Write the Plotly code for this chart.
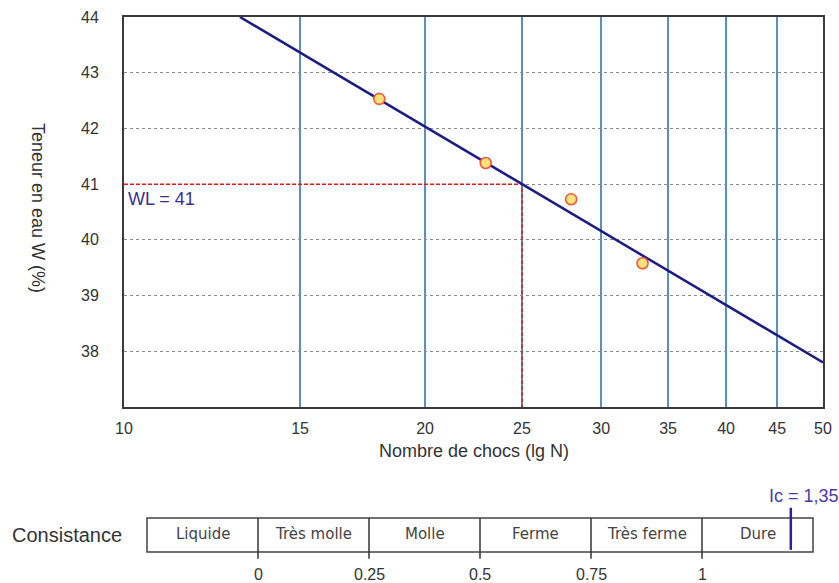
import numpy as np
import plotly.graph_objects as go

# ---- data ----
chocs_N = [18, 23, 28, 33]
teneur_W = [42.53, 41.38, 40.73, 39.58]
fit_N = [13.06, 50]
fit_W = [44.0, 37.8]
WL_N = 25
WL = 41
x_ticks = [10, 15, 20, 25, 30, 35, 40, 45, 50]
y_ticks = [38, 39, 40, 41, 42, 43, 44]

cons_labels = ["Liquide", "Très molle", "Molle", "Ferme", "Très ferme", "Dure"]
cons_bounds = [-0.25, 0, 0.25, 0.5, 0.75, 1, 1.25]
cons_ticks = [0, 0.25, 0.5, 0.75, 1]
cons_ticktext = ["0", "0.25", "0.5", "0.75", "1"]
Ic_text = "Ic = 1,35"
Ic_marker_pos = 1.2

FONT = "Liberation Sans, Arial, sans-serif"
WIDE = "DejaVu Sans, Verdana, sans-serif"
TXT = "#333333"

fig = go.Figure()

# red dashed WL guides
fig.add_trace(go.Scatter(x=[10, WL_N, WL_N], y=[WL, WL, 37], mode="lines",
                         line=dict(color="#e01c1c", width=1.5, dash="4px,2px"),
                         hoverinfo="skip", showlegend=False))
# regression line
fig.add_trace(go.Scatter(x=fit_N, y=fit_W, mode="lines",
                         line=dict(color="#1c1c84", width=2.5),
                         showlegend=False))
# points
fig.add_trace(go.Scatter(x=chocs_N, y=teneur_W, mode="markers",
                         marker=dict(size=11, color="#f7e37a",
                                     line=dict(color="#f05a3c", width=1.6)),
                         showlegend=False))

# consistency bar (x2/y2)
fig.add_trace(go.Scatter(x=[None], y=[None], xaxis="x2", yaxis="y2", showlegend=False))

fig.add_shape(type="rect", xref="x2", yref="y2", x0=cons_bounds[0], x1=cons_bounds[-1],
              y0=0, y1=1, line=dict(color="#444444", width=1.5))
for b in cons_bounds[1:-1]:
    fig.add_shape(type="line", xref="x2", yref="y2", x0=b, x1=b, y0=-0.2, y1=1,
                  line=dict(color="#333333", width=1.5))
for i, lab in enumerate(cons_labels):
    fig.add_annotation(x=(cons_bounds[i] + cons_bounds[i + 1]) / 2, y=0.52, xref="x2", yref="y2",
                       text=lab, showarrow=False, font=dict(family=WIDE, size=15, color="#444444"))
for v, t in zip(cons_ticks, cons_ticktext):
    fig.add_annotation(x=v, y=-0.65, xref="x2", yref="y2", text=t, showarrow=False,
                       font=dict(family=FONT, size=16, color=TXT))
fig.add_shape(type="line", xref="x2", yref="y2", x0=Ic_marker_pos, x1=Ic_marker_pos,
              y0=0.06, y1=1.3, line=dict(color="#26269a", width=2.5))
fig.add_annotation(x=Ic_marker_pos + 0.03, y=1.3, xref="x2", yref="y2", text=Ic_text,
                   showarrow=False, yanchor="bottom",
                   font=dict(family=FONT, size=18, color="#4a3aa8"))
fig.add_annotation(x=-0.163, y=0.5, xref="paper", yref="y2", text="Consistance",
                   showarrow=False, xanchor="left",
                   font=dict(family=FONT, size=20, color=TXT))

# WL label
fig.add_annotation(x=np.log10(10), y=WL, xref="x", yref="y", text="WL = " + str(WL),
                   showarrow=False, xanchor="left", yanchor="top", xshift=2, yshift=-3,
                   font=dict(family=FONT, size=18, color="#3b2f8f"))
# axis titles
fig.add_annotation(x=-0.14, y=0.51, xref="paper", yref="y domain", text="Teneur en eau W (%)",
                   textangle=90, showarrow=False, font=dict(family=FONT, size=18, color=TXT))
fig.add_annotation(x=0.5, y=-0.143, xref="x domain", yref="y domain", text="Nombre de chocs (lg N)",
                   showarrow=False, font=dict(family=FONT, size=18, color=TXT))

fig.update_layout(
    width=839, height=583,
    margin=dict(l=124, r=16, t=17, b=5),
    paper_bgcolor="white", plot_bgcolor="white",
    font=dict(family=FONT, size=16, color=TXT),
    showlegend=False,
    xaxis=dict(type="log", range=[1, np.log10(50)], tickvals=x_ticks,
               ticktext=[str(v) for v in x_ticks], showgrid=True,
               gridcolor="#5a8fbf", gridwidth=1.5, showline=True, mirror=True,
               linecolor="#3a3a3a", linewidth=2, ticks="", ticklabelstandoff=6,
               tickfont=dict(size=16), zeroline=False, domain=[0, 1], anchor="y"),
    yaxis=dict(range=[37, 44], tickvals=y_ticks, showgrid=True, gridcolor="#8a8a8a",
               gridwidth=1, griddash="dot", showline=True, mirror=True,
               linecolor="#3a3a3a", linewidth=2, ticks="", ticklabelstandoff=20,
               tickfont=dict(size=16), zeroline=False, domain=[0.3048, 1], anchor="x"),
    xaxis2=dict(range=[-0.25 - 0.0329 / 0.9528 * 1.5, 1.25 + (1 - 0.9857) / 0.9528 * 1.5],
                visible=False, domain=[0, 1], anchor="y2"),
    yaxis2=dict(range=[-0.765, 1.706], visible=False, domain=[0, 0.15], anchor="x2"),
)

fig.write_html("out.html")
